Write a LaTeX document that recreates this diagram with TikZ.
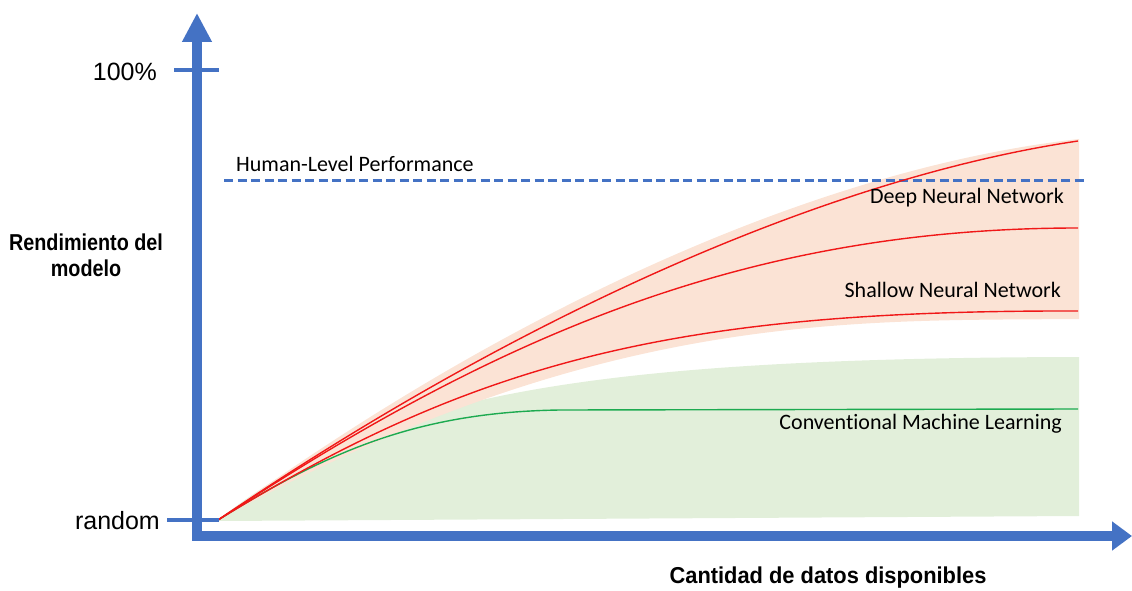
\documentclass[tikz,border=0pt]{standalone}
\usepackage{fontspec}
\setmainfont{Liberation Sans}
\newfontfamily\calib[Ligatures=NoCommon]{Carlito}
\newfontfamily\titlefontx[FakeStretch=0.95]{Liberation Sans}
\newfontfamily\titlefonty[FakeStretch=0.86]{Liberation Sans}
\usetikzlibrary{arrows.meta}
\definecolor{axblue}{HTML}{4472C4}
\definecolor{cred}{HTML}{F01818}
\definecolor{cgreen}{HTML}{1DAA50}
\definecolor{bandor}{HTML}{FBE3D5}
\definecolor{bandgr}{HTML}{E2EFDA}
\tikzset{
  axisline/.style={draw=axblue, line width=10pt, line join=miter},
  tick/.style={draw=axblue, line width=4pt},
  curvered/.style={draw=cred, line width=1.4pt},
  curvegreen/.style={draw=cgreen, line width=1.4pt},
  hlp/.style={draw=axblue, line width=3pt, dash pattern=on 9pt off 4.5pt},
  curvelab/.style={font=\calib\fontsize{22}{24}\selectfont, anchor=east, inner sep=0pt},
  axlab/.style={font=\fontsize{25}{28}\selectfont, anchor=east, inner sep=0pt},
}
\begin{document}
\begin{tikzpicture}[x=1pt,y=-1pt]
\useasboundingbox (0,0) rectangle (1132,591);
% bands
\fill[bandgr] (218,520) .. controls (370,400) and (560,358) .. (1079,357)
  -- (1079,516) -- (218,521) -- cycle;
\fill[bandor] (218,520) .. controls (510,308) and (820,168) .. (1079,139)
  -- (1079,319) .. controls (850,321) and (600,310) .. (218,520) -- cycle;
% human-level
\coordinate (hl0) at (224,180);
\coordinate (hl1) at (1086,180);
\draw[hlp] (hl0) -- (hl1);
\node[anchor=south west, inner sep=0pt, font=\calib\fontsize{22}{24}\selectfont] (hlt) at (236,172) {Human-Level Performance};
% curves
\coordinate (o) at (218,520);
\coordinate (gm) at (560,410);
\coordinate (ge) at (1078,409);
\coordinate (le) at (1078,311);
\coordinate (me) at (1078,228);
\coordinate (de) at (1078,141);
\draw[curvegreen] (o) .. controls (330,450) and (420,412) .. (gm) -- (ge);
\draw[curvered] (o) .. controls (478,360) and (678,310) .. (le);
\draw[curvered] (o) .. controls (498,335) and (748,228) .. (me);
\draw[curvered] (o) .. controls (518,316) and (828,178) .. (de);
% labels
\node[curvelab] (dnn) at (1064,198) {Deep Neural Network};
\node[curvelab] (snn) at (1061,290) {Shallow Neural Network};
\node[curvelab] (cml) at (1062,424) {Conventional Machine Learning};
% axes
\coordinate (ytip) at (197,13);
\coordinate (orig) at (197,536);
\coordinate (xtip) at (1132,536);
\draw[axisline, {Triangle[length=29pt,width=28pt]}-{Triangle[length=20pt,width=28pt]}] (ytip) -- (orig) -- (xtip);
\coordinate (t1a) at (174,70);
\coordinate (t1b) at (219,70);
\coordinate (t0a) at (167,520);
\coordinate (t0b) at (219,520);
\draw[tick] (t1a) -- (t1b);
\draw[tick] (t0a) -- (t0b);
\node[axlab] (l100) at (157,72) {100\%};
\node[axlab] (lrand) at (160,521) {random};
\node[font=\titlefonty\bfseries\fontsize{23}{26}\selectfont, align=center, inner sep=0pt] (ytitle) at (86,255) {Rendimiento del\\modelo};
\node[font=\titlefontx\bfseries\fontsize{23}{26}\selectfont, inner sep=0pt] (xtitle) at (828,578) {Cantidad de datos disponibles};
\end{tikzpicture}
\end{document}
